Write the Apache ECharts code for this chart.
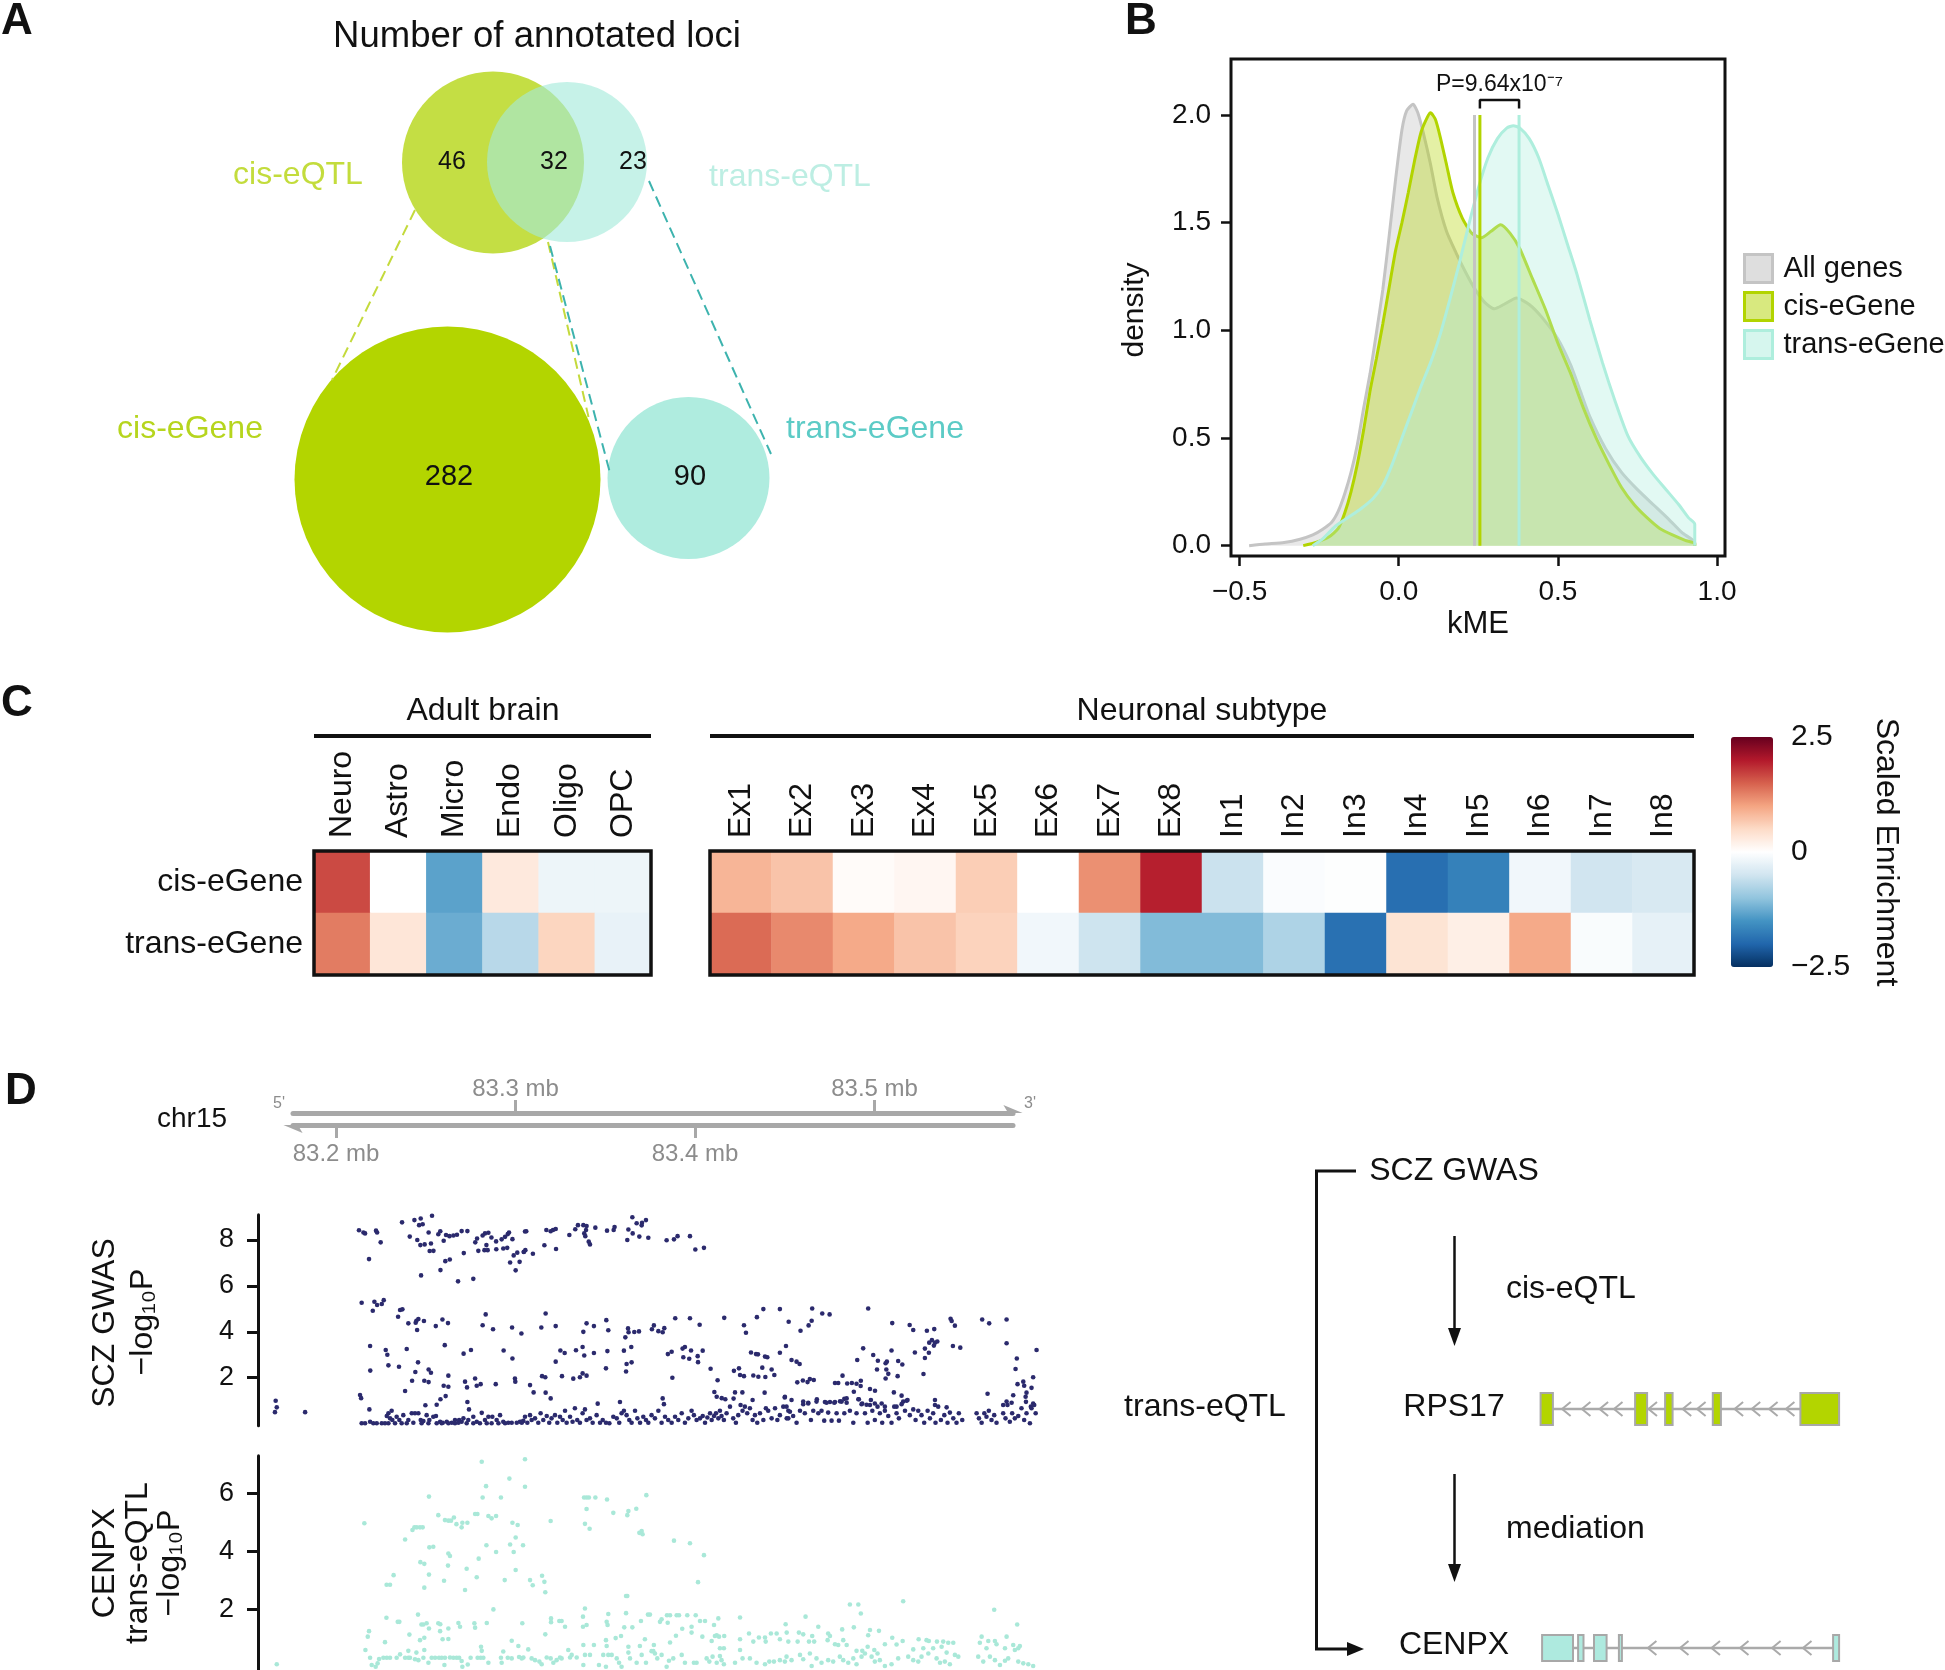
<!DOCTYPE html>
<html>
<head>
<meta charset="utf-8">
<title>Annotated loci figure</title>
<script src="https://cdn.jsdelivr.net/npm/echarts@6.0.0/dist/echarts.min.js"></script>
<style>
html,body{margin:0;padding:0;background:#ffffff;}
#chart{width:1945px;height:1670px;}
</style>
</head>
<body>
<div id="chart"></div>
<script>
const FONT = '"Liberation Sans", Arial, Helvetica, sans-serif';

/* ================= DATA ================= */
/* Panel A: Venn (layout units) */
const vennSets = ['cis-eQTL', 'trans-eQTL', 'cis-eGene', 'trans-eGene'];
const vennCircleX = [39.3, 46.7, 34.75, 58.85];
const vennCircleY = [10.25, 10.2, 41.95, 41.8];
const vennCircleR = [9.1, 8.0, 15.3, 8.1];
const vennCounts = ['46', '32', '23', '282', '90'];
const vennCountX = [35.2, 45.4, 53.3, 34.9, 59.0];
const vennCountY = [10.2, 10.2, 10.2, 41.7, 41.7];
const vennLabelX = [19.8, 69.0, 9.0, 77.5];
const vennLabelY = [11.5, 11.7, 36.9, 36.9];
const vennLinkFrom = [[31.5, 15.0], [44.8, 18.2], [45.0, 18.6], [54.9, 12.1]];
const vennLinkTo = [[23.2, 32.0], [48.85, 35.7], [51.0, 41.3], [67.1, 39.4]];

/* Panel B: kME densities */
const densityGroups = ['All genes', 'cis-eGene', 'trans-eGene'];
const kmeAll = [[-0.47,0],[-0.42,0.008],[-0.36,0.015],[-0.31,0.03],[-0.27,0.05],[-0.24,0.075],[-0.21,0.11],[-0.19,0.16],[-0.17,0.24],[-0.15,0.34],[-0.13,0.47],[-0.11,0.64],[-0.09,0.8],[-0.07,0.99],[-0.05,1.19],[-0.03,1.44],[-0.01,1.7],[0.01,1.93],[0.025,2.02],[0.045,2.05],[0.06,2.01],[0.08,1.9],[0.1,1.77],[0.12,1.62],[0.15,1.46],[0.18,1.36],[0.21,1.27],[0.24,1.19],[0.27,1.13],[0.3,1.1],[0.33,1.12],[0.37,1.15],[0.41,1.12],[0.45,1.06],[0.5,0.96],[0.54,0.84],[0.57,0.72],[0.6,0.6],[0.65,0.45],[0.7,0.34],[0.75,0.26],[0.8,0.19],[0.85,0.12],[0.89,0.06],[0.93,0.015],[0.93,0]];
const kmeCis = [[-0.3,0],[-0.26,0.015],[-0.22,0.04],[-0.19,0.08],[-0.17,0.15],[-0.15,0.25],[-0.13,0.38],[-0.11,0.54],[-0.09,0.72],[-0.07,0.87],[-0.05,1.03],[-0.03,1.2],[-0.01,1.37],[0.01,1.5],[0.03,1.64],[0.05,1.79],[0.07,1.92],[0.09,1.99],[0.1,2.01],[0.115,1.98],[0.13,1.9],[0.15,1.77],[0.17,1.64],[0.2,1.52],[0.23,1.45],[0.26,1.43],[0.29,1.46],[0.32,1.49],[0.35,1.45],[0.38,1.38],[0.42,1.24],[0.46,1.1],[0.5,0.94],[0.54,0.8],[0.58,0.64],[0.62,0.5],[0.66,0.38],[0.7,0.27],[0.74,0.19],[0.78,0.13],[0.82,0.08],[0.86,0.05],[0.9,0.025],[0.93,0.01],[0.93,0]];
const kmeTrans = [[-0.27,0],[-0.24,0.03],[-0.2,0.09],[-0.16,0.13],[-0.12,0.17],[-0.08,0.22],[-0.05,0.28],[-0.02,0.38],[0.01,0.5],[0.04,0.62],[0.07,0.74],[0.1,0.85],[0.13,0.98],[0.16,1.14],[0.19,1.31],[0.22,1.49],[0.25,1.66],[0.28,1.8],[0.31,1.89],[0.34,1.94],[0.36,1.95],[0.38,1.94],[0.41,1.89],[0.44,1.8],[0.47,1.67],[0.5,1.54],[0.53,1.4],[0.56,1.26],[0.6,1.05],[0.64,0.85],[0.68,0.67],[0.72,0.51],[0.76,0.41],[0.8,0.33],[0.84,0.26],[0.88,0.19],[0.91,0.13],[0.93,0.1],[0.93,0]];
const kmeMeans = [0.238, 0.255, 0.378];
const meanLineTop = 2.0;
const bracketY = [2.03, 2.07];
const pValueY = 2.14;
const pValueText = 'P=9.64x10\u207B\u2077';
const kmeTicks = [-0.5, 0, 0.5, 1];
const densityTicks = [0, 0.5, 1, 1.5, 2];

/* Panel C: scaled enrichment */
const adultCells = ['Neuro', 'Astro', 'Micro', 'Endo', 'Oligo', 'OPC'];
const neuronCells = ['Ex1','Ex2','Ex3','Ex4','Ex5','Ex6','Ex7','Ex8','In1','In2','In3','In4','In5','In6','In7','In8'];
const geneSets = ['trans-eGene', 'cis-eGene'];
const cisAdult = [1.65, 0.0, -1.35, 0.3, -0.2, -0.2];
const transAdult = [1.3, 0.35, -1.25, -0.7, 0.55, -0.25];
const cisNeuron = [0.85, 0.72, 0.05, 0.12, 0.62, 0.0, 1.15, 1.95, -0.55, -0.05, -0.02, -1.9, -1.7, -0.15, -0.5, -0.42];
const transNeuron = [1.42, 1.2, 0.95, 0.72, 0.57, -0.15, -0.52, -1.1, -1.1, -0.78, -1.88, 0.38, 0.22, 0.95, -0.06, -0.27];
const colorbarLabels = [-2.5, 0, 2.5];
const colorbarTicks = [-2, -1.5, -1, -0.5, 0, 0.5, 1, 1.5, 2];

/* Panel D: chr15 locus (position in mb, -log10 P) */
const upperTicksMb = [83.3, 83.5];
const lowerTicksMb = [83.2, 83.4];
const gwasSnps = [
[83.1664,1.00],[83.1670,0.71],[83.1660,0.50],[83.1828,0.50],
[83.2128,8.43],[83.2153,8.33],[83.2162,8.29],[83.2223,8.41],[83.2229,8.33],[83.2249,7.90],[83.2184,7.17],[83.2368,8.77],[83.2437,8.87],[83.2472,8.94],[83.2463,8.65],[83.2483,8.69],[83.2535,9.06],[83.2411,8.15],[83.2453,8.00],[83.2470,7.78],[83.2494,7.81],[83.2516,8.33],[83.2529,7.85],[83.2522,7.52],[83.2543,7.53],[83.2570,8.25],[83.2581,8.38],[83.2600,7.97],[83.2613,8.22],[83.2632,8.17],[83.2654,8.20],[83.2674,8.23],[83.2700,8.39],[83.2732,8.39],[83.2712,7.43],[83.2609,7.08],[83.2634,7.15],[83.2582,6.69],[83.2474,6.46],[83.2680,6.20],[83.2765,6.31],[83.2776,7.90],[83.2786,8.07],[83.2793,7.53],[83.2817,8.20],[83.2830,8.29],[83.2849,8.32],[83.2866,8.11],[83.2838,7.78],[83.2827,7.56],[83.2845,7.56],[83.2892,7.94],[83.2893,7.60],[83.2923,8.03],[83.2942,8.14],[83.2957,8.26],[83.2964,8.33],[83.2932,7.63],[83.2954,7.66],[83.2983,8.04],[83.2990,7.33],[83.2970,7.02],[83.3001,6.68],[83.3010,7.45],[83.3023,7.05],[83.3046,7.48],[83.3053,8.37],
[83.3047,7.49],[83.3055,7.56],[83.3097,7.40],[83.3060,8.38],[83.3161,7.77],[83.3172,8.44],[83.3196,8.38],[83.3209,8.44],[83.3224,8.48],[83.3226,7.61],[83.3300,8.22],[83.3333,8.47],[83.3348,8.65],[83.3378,8.65],[83.3396,8.61],[83.3393,8.44],[83.3383,8.29],[83.3389,8.17],[83.3408,7.93],[83.3415,7.81],[83.3445,8.54],[83.3510,8.41],[83.3547,8.44],[83.3552,8.57],[83.3623,8.00],[83.3629,8.46],[83.3651,8.99],[83.3675,8.73],[83.3703,8.64],[83.3705,8.75],[83.3727,8.87],[83.3653,8.29],[83.3690,8.15],[83.3740,8.10],[83.3842,7.99],[83.3883,8.03],[83.3903,8.17],[83.3972,8.17],[83.4002,7.59],[83.4050,7.66],
[83.2143,5.27],[83.2214,5.31],[83.2229,5.17],[83.2255,5.21],[83.2266,5.38],[83.2205,4.92],[83.2346,4.66],[83.2357,4.95],[83.2370,4.98],[83.2403,4.37],[83.2444,4.40],[83.2448,4.48],[83.2459,4.56],[83.2452,4.08],[83.2490,4.47],[83.2556,4.25],[83.2593,4.54],[83.2624,4.38],[83.2834,4.76],[83.2817,4.29],[83.2875,4.11],[83.2981,4.19],[83.3033,3.93],
[83.2190,3.38],[83.2277,3.21],[83.2286,3.00],[83.2394,3.25],[83.2606,3.42],[83.2711,3.05],[83.2752,3.21],[83.2934,3.19],[83.2983,2.84],[83.2292,2.54],[83.2351,2.48],[83.2457,2.67],[83.2191,2.31],[83.2442,2.25],[83.2516,2.36],[83.2529,2.22],[83.2626,2.09],[83.2775,1.97],[83.2424,1.87],[83.2492,1.87],[83.2516,1.81],[83.2600,1.65],[83.2626,1.61],[83.2719,1.83],[83.2730,1.58],[83.2784,1.65],[83.2806,1.72],[83.2890,1.72],[83.2999,1.83],[83.2997,1.97],[83.2385,1.42],[83.2134,1.25],[83.2140,1.11],[83.2611,1.20],[83.2582,1.06],[83.2561,0.82],[83.2732,0.94],[83.2498,0.80],[83.2186,0.62],[83.2741,0.62],
[83.3168,4.80],[83.3144,4.19],[83.3224,4.25],[83.3396,4.37],[83.3378,4.00],[83.3437,4.25],[83.3506,4.51],[83.3517,4.07],[83.3612,3.76],[83.3627,4.15],[83.3630,3.98],[83.3662,3.99],[83.3688,4.02],[83.3760,4.11],[83.3771,4.28],[83.3796,4.03],[83.3820,3.98],[83.3829,4.16],[83.3890,4.59],[83.3972,4.59],[83.4026,4.31],[83.4163,4.61],[83.4273,4.29],[83.4284,3.96],[83.4345,4.64],[83.4381,4.99],[83.4473,4.99],[83.4522,4.44],
[83.3250,3.19],[83.3274,3.08],[83.3337,3.20],[83.3374,3.34],[83.3383,2.97],[83.3437,3.08],[83.3512,3.16],[83.3604,3.18],[83.3645,3.34],[83.3619,2.60],[83.3647,2.67],[83.3616,2.27],[83.3224,2.70],[83.3148,2.07],[83.3166,2.02],[83.3259,2.07],[83.3322,1.96],[83.3359,2.02],[83.3374,2.19],[83.3396,2.09],[83.3504,2.41],[83.3849,3.03],[83.3870,3.13],[83.3931,3.27],[83.3944,3.34],[83.3978,3.19],[83.4015,2.94],[83.4043,3.18],[83.3935,2.89],[83.3968,2.83],[83.4017,2.68],[83.3874,2.00],[83.4087,2.39],[83.4126,1.89],[83.4217,2.30],[83.4245,2.41],[83.4251,2.12],[83.4273,2.07],[83.4312,3.10],[83.4340,3.03],[83.4351,3.02],[83.4390,2.92],[83.4403,2.89],[83.4473,3.09],[83.4507,3.38],[83.4375,2.44],[83.4427,2.36],[83.4325,2.10],[83.4353,2.04],[83.4392,2.03],[83.4442,2.12],[83.3081,1.68],[83.3101,1.36],[83.3168,1.35],[83.3196,1.10],[83.3458,0.87],[83.3582,0.94],[83.3820,1.10],[83.3827,0.85],[83.4108,1.38],[83.4121,1.17],[83.4149,1.11],[83.4169,1.06],[83.4215,1.09],[83.4223,1.36],[83.4264,1.36],[83.4321,1.03],[83.4388,1.35],[83.4500,1.14],
[83.4653,5.02],[83.4709,4.80],[83.4750,4.76],[83.4650,4.48],[83.4633,4.28],[83.4588,4.05],[83.4965,5.02],[83.5099,4.38],[83.5196,4.30],[83.5216,4.08],[83.5292,4.05],[83.5333,4.12],[83.5424,4.57],[83.5430,4.47],[83.5448,4.27],[83.5600,4.54],[83.5639,4.37],[83.5736,4.54],[83.5305,3.53],[83.5320,3.64],[83.5337,3.53],[83.5350,3.58],[83.5331,3.40],[83.5281,3.27],[83.5303,3.09],[83.5437,3.38],[83.5478,3.31],[83.5225,3.10],[83.5095,3.19],[83.4937,3.28],[83.4993,2.99],[83.5736,3.50],[83.5903,3.21],[83.5793,2.84],[83.4538,2.77],[83.4566,2.70],[83.4583,2.60],[83.4904,2.77],[83.5019,2.74],[83.5062,2.63],[83.5069,2.70],[83.5132,2.73],[83.5155,2.58],[83.5014,2.36],[83.5066,2.36],[83.5077,2.17],[83.5129,2.07],[83.5062,1.97],[83.5281,2.86],[83.5273,2.16],[83.5786,2.38],[83.5884,2.02],[83.4570,1.80],[83.4601,1.88],[83.4627,1.81],[83.4640,1.94],[83.4662,1.90],[83.4780,1.77],[83.4798,1.77],[83.4822,2.09],[83.4848,1.75],[83.4874,1.77],[83.4900,1.74],[83.4924,1.87],[83.4923,1.64],[83.4975,1.51],[83.5003,1.43],[83.4885,1.39],[83.5108,1.36],[83.5151,1.22],[83.5797,1.72],[83.5829,1.83],[83.5834,1.65],[83.5875,1.56],[83.5847,1.35],[83.5773,1.24],[83.5630,1.30],[83.5842,1.17],[83.5844,0.95],[83.5884,0.88],[83.5871,0.74],[83.4501,1.17],[83.4538,1.03],[83.4603,0.96],[83.4631,0.91],[83.4679,1.06],[83.4724,0.94],[83.4752,0.94],[83.4780,0.94],[83.4808,0.97],[83.4832,1.08],[83.4845,0.91],[83.4910,1.06],[83.4932,0.88],[83.4956,0.82],[83.4980,1.03],[83.5002,0.88],[83.5040,0.88],[83.5058,0.74],[83.5123,0.74],[83.5160,0.96],[83.5179,1.00],[83.5337,1.03],[83.5337,0.81],[83.5402,0.71],[83.5717,0.81],[83.5736,0.96],[83.5764,0.91],
[83.2292,0.45],[83.2310,0.56],[83.2283,0.33],[83.2301,0.23],[83.2314,0.16],[83.2338,0.30],[83.2353,0.16],[83.2375,0.37],[83.2403,0.16],[83.2422,0.45],[83.2440,0.45],[83.2459,0.45],[83.2472,0.16],[83.2487,0.11],[83.2505,0.37],[83.2520,0.16],[83.2542,0.30],[83.2557,0.33],[83.2580,0.08],[83.2595,0.04],[83.2617,0.08],[83.2645,0.04],[83.2663,0.16],[83.2686,0.16],[83.2700,0.08],[83.2710,0.23],[83.2737,0.16],[83.2765,0.30],[83.2784,0.08],[83.2812,0.47],[83.2830,0.16],[83.2849,0.30],[83.2871,0.30],[83.2895,0.16],[83.2914,0.37],[83.2932,0.08],[83.2960,0.04],[83.2979,0.04],[83.3007,0.04],[83.3035,0.04],[83.2143,0.02],[83.2162,0.02],[83.2190,0.08],[83.2208,0.02],[83.2227,0.02],[83.2255,0.02],[83.2273,0.02],[83.2292,0.02],[83.2329,0.02],[83.2366,0.02],[83.2394,0.02],[83.2431,0.04],[83.2477,0.02],[83.2515,0.02],[83.2561,0.02],[83.2589,0.02],[83.2626,0.02],[83.2663,0.02],[83.2682,0.04],[83.2728,0.02],[83.2765,0.02],[83.2802,0.02],[83.2840,0.02],[83.2867,0.02],[83.2905,0.02],[83.2942,0.02],[83.3025,0.08],[83.3044,0.12],
[83.3034,0.08],[83.3053,0.30],[83.3066,0.04],[83.3081,0.37],[83.3090,0.16],[83.3109,0.23],[83.3127,0.04],[83.3140,0.45],[83.3155,0.16],[83.3174,0.33],[83.3188,0.04],[83.3201,0.23],[83.3220,0.37],[83.3233,0.04],[83.3248,0.30],[83.3263,0.16],[83.3276,0.56],[83.3285,0.04],[83.3304,0.30],[83.3318,0.08],[83.3331,0.67],[83.3344,0.16],[83.3359,0.04],[83.3374,0.45],[83.3387,0.62],[83.3396,0.16],[83.3415,0.23],[83.3430,0.04],[83.3452,0.37],[83.3471,0.04],[83.3486,0.16],[83.3504,0.04],[83.3523,0.02],[83.3545,0.30],[83.3564,0.23],[83.3578,0.04],[83.3591,0.45],[83.3604,0.56],[83.3619,0.37],[83.3634,0.16],[83.3647,0.04],[83.3666,0.56],[83.3679,0.23],[83.3694,0.04],[83.3712,0.30],[83.3727,0.16],[83.3740,0.04],[83.3758,0.37],[83.3777,0.23],[83.3796,0.56],[83.3814,0.04],[83.3833,0.30],[83.3851,0.16],[83.3870,0.04],[83.3889,0.30],[83.3907,0.16],[83.3926,0.45],[83.3944,0.04],[83.3963,0.23],[83.3981,0.56],[83.3994,0.37],[83.4009,0.16],[83.4028,0.23],[83.4043,0.33],[83.4056,0.04],[83.4069,0.27],[83.4084,0.45],[83.4093,0.16],[83.4106,0.33],[83.4117,0.45],[83.4130,0.23],[83.4139,0.56],[83.4148,0.33],[83.4161,0.16],[83.4176,0.45],[83.4195,0.74],[83.4213,0.23],[83.4228,0.04],[83.4241,0.37],[83.4254,0.81],[83.4265,0.56],[83.4278,0.74],[83.4291,0.45],[83.4306,0.67],[83.4321,0.16],[83.4334,0.37],[83.4347,0.04],[83.4362,0.45],[83.4381,0.16],[83.4395,0.67],[83.4408,0.56],[83.4427,0.23],[83.4446,0.67],[83.4459,0.16],[83.4473,0.37],[83.4492,0.74],[83.4511,0.23],[83.4520,0.56],
[83.4510,0.74],[83.4529,0.52],[83.4520,0.23],[83.4547,0.33],[83.4566,0.04],[83.4585,0.56],[83.4603,0.85],[83.4612,0.45],[83.4631,0.88],[83.4646,0.16],[83.4659,0.56],[83.4677,0.96],[83.4687,0.45],[83.4705,0.56],[83.4720,0.13],[83.4733,0.91],[83.4742,0.48],[83.4761,0.13],[83.4776,0.91],[83.4789,0.45],[83.4802,0.13],[83.4817,0.96],[83.4832,0.45],[83.4845,1.10],[83.4863,0.56],[83.4882,0.04],[83.4900,0.45],[83.4913,1.06],[83.4928,0.85],[83.4947,0.45],[83.4962,0.04],[83.4975,0.81],[83.4988,0.56],[83.5002,0.16],[83.5017,0.74],[83.5030,0.45],[83.5043,0.04],[83.5058,0.56],[83.5077,0.33],[83.5095,0.04],[83.5110,0.74],[83.5123,0.45],[83.5136,0.23],[83.5151,0.85],[83.5170,0.56],[83.5184,1.03],[83.5197,0.37],[83.5216,0.62],[83.5229,0.16],[83.5244,0.56],[83.5262,0.37],[83.5277,0.04],[83.5296,0.56],[83.5309,0.23],[83.5327,0.45],[83.5340,0.04],[83.5355,0.74],[83.5370,0.16],[83.5389,0.37],[83.5407,0.04],[83.5420,0.48],[83.5439,0.23],[83.5457,0.04],[83.5470,0.45],[83.5489,0.16],[83.5569,0.45],[83.5582,0.23],[83.5597,0.04],[83.5612,0.45],[83.5624,0.30],[83.5637,0.56],[83.5652,0.16],[83.5667,0.37],[83.5680,0.04],[83.5717,0.45],[83.5730,0.23],[83.5741,0.81],[83.5754,0.08],[83.5767,0.45],[83.5782,0.23],[83.5801,0.33],[83.5819,0.67],[83.5834,0.16],[83.5847,0.45],[83.5866,0.02],[83.5875,0.67],[83.5890,0.81],[83.5898,0.45]
];
const transSnps = [
[83.1670,0.11],[83.2158,4.97],[83.2518,5.89],[83.2385,4.41],[83.2426,4.74],[83.2437,4.83],[83.2450,4.83],[83.2468,4.83],[83.2483,4.83],[83.2520,4.14],[83.2542,4.16],[83.2570,5.25],[83.2607,5.08],[83.2626,5.06],[83.2641,5.06],[83.2657,5.17],[83.2671,4.94],[83.2700,4.83],[83.2704,4.99],[83.2732,4.99],[83.2775,5.29],[83.2788,5.29],[83.2812,7.09],[83.2836,6.25],[83.2817,5.86],[83.2849,5.22],[83.2867,5.14],[83.2892,5.22],[83.2919,5.86],[83.2966,6.51],[83.2983,4.99],[83.3012,4.91],[83.3001,4.48],[83.3053,7.18],[83.3053,6.23],[83.2838,4.21],[83.2892,3.98],[83.2970,4.24],[83.2990,3.98],[83.3042,4.21],[83.2626,3.93],[83.2635,3.84],[83.2470,3.63],[83.2492,3.57],[83.2624,3.51],[83.2795,3.75],[83.2728,3.40],[83.2518,3.20],[83.2321,3.18],[83.2282,2.85],[83.2301,2.85],[83.2492,2.75],[83.2602,2.99],[83.2719,2.67],[83.2784,3.11],[83.2940,3.01],[83.3001,3.36],[83.2877,2.00],[83.2457,1.82],[83.2281,1.71],[83.2344,1.57],[83.2353,1.57],[83.2476,1.48],[83.2487,1.48],[83.2505,1.52],[83.2518,1.34],[83.2570,1.52],[83.2581,1.49],[83.2580,1.25],[83.2626,1.34],[83.2682,1.53],[83.2691,1.40],[83.2771,1.52],[83.2775,1.37],[83.2840,1.53],[83.3038,1.52],[83.2184,1.25],[83.2177,1.06],[83.2409,1.13],[83.2273,0.87],[83.2468,0.94],[83.2492,1.02],[83.2594,0.97],[83.2626,0.98],[83.2979,0.92],[83.2164,0.60],[83.2403,0.57],[83.2448,0.51],[83.2492,0.60],[83.2808,0.71],[83.2812,0.57],[83.2932,0.55],[83.3016,0.74],
[83.2190,0.33],[83.2199,0.08],[83.2221,0.02],[83.2232,0.14],[83.2240,0.29],[83.2264,0.33],[83.2283,0.33],[83.2301,0.33],[83.2338,0.33],[83.2357,0.45],[83.2385,0.33],[83.2403,0.33],[83.2412,0.33],[83.2440,0.28],[83.2459,0.25],[83.2487,0.33],[83.2515,0.16],[83.2533,0.33],[83.2552,0.33],[83.2574,0.33],[83.2589,0.33],[83.2607,0.33],[83.2604,0.08],[83.2635,0.34],[83.2654,0.33],[83.2672,0.33],[83.2686,0.33],[83.2700,0.22],[83.2704,0.02],[83.2734,0.10],[83.2750,0.33],[83.2789,0.33],[83.2806,0.33],[83.2821,0.33],[83.2849,0.16],[83.2919,0.33],[83.2923,0.16],[83.2957,0.33],[83.2979,0.31],[83.3020,0.36],[83.3035,0.31],
[83.3196,5.05],[83.3382,5.86],[83.3396,5.86],[83.3409,5.86],[83.3445,5.86],[83.3510,5.79],[83.3729,5.94],[83.3396,5.46],[83.3387,4.95],[83.3413,4.78],[83.3545,5.33],[83.3623,5.25],[83.3629,5.39],[83.3673,5.47],[83.3690,4.64],[83.3703,4.70],[83.3708,4.59],[83.3883,4.37],[83.3972,4.28],[83.4050,3.87],[83.4017,2.94],[83.3081,3.01],[83.3096,2.83],[83.3148,3.16],[83.3161,2.95],[83.3166,2.59],[83.3616,2.46],[83.3623,2.46],[83.3166,1.14],[83.3198,1.69],[83.3198,1.56],[83.3244,1.60],[83.3257,1.60],[83.3276,1.40],[83.3376,1.75],[83.3387,2.03],[83.3376,1.40],[83.3396,1.46],[83.3517,1.84],[83.3508,1.57],[83.3513,1.46],[83.3616,1.87],[83.3606,1.38],[83.3651,1.38],[83.3699,1.60],[83.3738,1.82],[83.3749,1.82],[83.3805,1.57],[83.3814,1.66],[83.3844,1.80],[83.3848,1.54],[83.3861,1.80],[83.3898,1.80],[83.3911,1.80],[83.3957,1.80],[83.4004,1.80],[83.4028,1.60],[83.4056,1.60],[83.3981,1.40],[83.3981,1.20],[83.4130,1.69],[83.4251,1.72],[83.4106,1.46],[83.3929,1.33],[83.3894,1.09],[83.3861,0.86],[83.4041,1.06],[83.4093,0.91],[83.4111,1.08],[83.4121,1.11],[83.4134,1.06],[83.4163,1.08],[83.4139,0.66],[83.4161,0.66],[83.4251,0.97],[83.4301,1.17],[83.4325,0.89],[83.4356,1.03],[83.4390,1.03],[83.4394,0.89],[83.4423,1.17],[83.4455,1.17],[83.4473,0.97],[83.4505,1.49],[83.4511,1.20],[83.3378,0.77],[83.3437,0.77],[83.3504,0.94],[83.3508,0.74],[83.3558,1.01],[83.3588,1.08],[83.3629,0.71],[83.3693,0.74],[83.3721,0.97],[83.3771,0.77],[83.3768,0.56],[83.3071,0.62],[83.3294,0.60],[83.3313,0.43],
[83.3044,0.34],[83.3090,0.31],[83.3109,0.25],[83.3133,0.20],[83.3146,0.11],[83.3174,0.34],[83.3196,0.31],[83.3211,0.16],[83.3229,0.25],[83.3248,0.34],[83.3257,0.31],[83.3304,0.34],[83.3341,0.34],[83.3378,0.08],[83.3387,0.43],[83.3415,0.43],[83.3465,0.08],[83.3489,0.43],[83.3504,0.02],[83.3517,0.43],[83.3536,0.43],[83.3564,0.31],[83.3577,0.16],[83.3591,0.02],[83.3629,0.51],[83.3638,0.31],[83.3675,0.16],[83.3703,0.43],[83.3727,0.16],[83.3758,0.56],[83.3777,0.48],[83.3790,0.31],[83.3814,0.43],[83.3842,0.02],[83.3855,0.23],[83.3879,0.31],[83.3926,0.43],[83.3944,0.16],[83.3994,0.16],[83.4009,0.16],[83.4065,0.31],[83.4080,0.20],[83.4098,0.37],[83.4121,0.16],[83.4139,0.39],[83.4148,0.25],[83.4161,0.11],[83.4223,0.16],[83.4251,0.60],[83.4265,0.31],[83.4306,0.31],[83.4343,0.16],[83.4390,0.11],[83.4414,0.20],[83.4440,0.20],[83.4473,0.25],[83.4501,0.20],
[83.4863,2.17],[83.4910,2.17],[83.4924,1.86],[83.5160,2.28],[83.5667,1.99],[83.4616,1.75],[83.4687,1.40],[83.4885,1.38],[83.4820,1.31],[83.4975,1.29],[83.5025,1.26],[83.5795,1.48],[83.4579,1.20],[83.4603,1.14],[83.4653,1.08],[83.4742,1.17],[83.4752,1.08],[83.4965,1.11],[83.5099,1.02],[83.5246,0.97],[83.5290,0.94],[83.5303,0.91],[83.5348,0.89],[83.5383,0.89],[83.5411,0.85],[83.5439,0.85],[83.5597,1.06],[83.5634,0.91],[83.5671,0.91],[83.5736,1.06],[83.5773,0.77],[83.5810,0.74],[83.4520,0.89],[83.4572,0.89],[83.4635,0.89],[83.4664,0.89],[83.4739,0.94],[83.4780,0.80],[83.4798,0.77],[83.4826,0.94],[83.4845,0.77],[83.4900,0.57],[83.4932,0.57],[83.4962,0.71],[83.4999,0.60],[83.5017,0.48],[83.5058,0.80],[83.5123,0.79],[83.5157,0.91],[83.5216,0.62],[83.5272,0.66],[83.5327,0.66],[83.5374,0.71],[83.5402,0.51],[83.5448,0.43],[83.5587,0.85],[83.5624,0.66],[83.5680,0.80],[83.5727,0.66],[83.5782,0.60],[83.5801,0.66],
[83.4510,0.37],[83.4538,0.25],[83.4585,0.43],[83.4603,0.28],[83.4640,0.48],[83.4650,0.05],[83.4677,0.31],[83.4705,0.16],[83.4742,0.25],[83.4770,0.20],[83.4807,0.37],[83.4826,0.25],[83.4854,0.16],[83.4882,0.31],[83.4900,0.11],[83.4928,0.37],[83.4947,0.48],[83.4984,0.37],[83.5002,0.20],[83.5030,0.25],[83.5058,0.05],[83.5095,0.11],[83.5132,0.31],[83.5188,0.37],[83.5216,0.25],[83.5244,0.20],[83.5262,0.37],[83.5300,0.48],[83.5346,0.31],[83.5365,0.16],[83.5392,0.20],[83.5420,0.11],[83.5467,0.37],[83.5578,0.37],[83.5606,0.20],[83.5643,0.37],[83.5671,0.25],[83.5699,0.08],[83.5727,0.23],[83.5745,0.31],[83.5801,0.20],[83.5829,0.14],[83.5857,0.11],[83.5884,0.05]
];

/* Panel D right: gene models (relative position along gene, 0-1) */
const geneNames = ['RPS17', 'CENPX'];
const geneRowY = [1, 0];
const geneSpan = [[0.002, 0.997], [0.007, 0.997]];
const rps17Exons = [[0.002,0.043],[0.317,0.357],[0.417,0.442],[0.576,0.603],[0.868,0.997]];
const cenpxExons = [[0.007,0.11],[0.127,0.145],[0.18,0.222],[0.263,0.273],[0.977,0.997]];
const rps17Chevrons = [0.087,0.153,0.212,0.26,0.375,0.489,0.537,0.662,0.719,0.777,0.833];
const cenpxChevrons = [0.373,0.48,0.585,0.68,0.787,0.89];

/* ================= STYLE ================= */
const vennFill = ['#c4de44', 'rgba(163,234,218,0.62)', '#b3d500', '#afecdf'];
const vennLabelColor = ['#c3dc3c', '#bdeee3', '#b6d51e', '#5ccbc6'];
const vennLinkColor = ['#c4da3c', '#c4da3c', '#3db3ae', '#3db3ae'];
const densityLine = ['#c4c4c4', '#b2d400', '#aeeedd'];
const densityFill = ['rgba(190,190,190,0.5)', 'rgba(178,212,0,0.5)', 'rgba(174,238,221,0.5)'];
const rdbu = ['#053061','#2166ac','#4393c3','#92c5de','#d1e5f0','#ffffff','#fddbc7','#f4a582','#d6604d','#b2182b','#67001f'];
const geneFill = ['#b3d500', '#aeeadf'];
const geneBoxH = [32, 26];
const INK = '#111111';

/* ================= HELPERS ================= */
function txt(text, x, y, size, o) {
  o = o || {};
  const al = o.align || 'center';
  return { type: 'text', x: x, y: y, rotation: o.rot || 0, z: 100, silent: true,
    style: { text: text, fill: o.color || INK, fontSize: size, fontFamily: FONT,
      fontWeight: o.bold ? 'bold' : 'normal', align: al, textAlign: al,
      verticalAlign: 'middle', textVerticalAlign: 'middle' } };
}
function hiddenAxis(gi, min, max, extra) {
  return Object.assign({ gridIndex: gi, type: 'value', min: min, max: max, show: false }, extra || {});
}
const fmt1 = v => (v < 0 ? '\u2212' + Math.abs(v).toFixed(1) : v.toFixed(1));
const fmtCb = v => (v === 0 ? '0' : (v < 0 ? '\u2212' + Math.abs(v).toFixed(1) : v.toFixed(1)));
const harpoon = 'path://M5,0 L0,12 L5,9 Z M10,12 L10,12 Z';
const snpMin = 83.15655, snpMax = 83.595;
const ideoMin = 83.176, ideoMax = 83.5771;

/* ================= SERIES ================= */
const series = [];
// Panel A
series.push({ type: 'custom', xAxisIndex: 0, yAxisIndex: 0, silent: true, z: 2,
  data: vennSets.map((n, i) => [vennCircleX[i], vennCircleY[i], vennCircleR[i]]),
  renderItem: (p, api) => {
    const c = api.coord([api.value(0), api.value(1)]);
    const r = Math.abs(api.size([api.value(2), 0])[0]);
    return { type: 'circle', shape: { cx: c[0], cy: c[1], r: r }, style: { fill: vennFill[p.dataIndex] } };
  } });
series.push({ type: 'custom', xAxisIndex: 0, yAxisIndex: 0, silent: true, z: 3,
  data: vennLinkFrom.map((f, i) => [f[0], f[1], vennLinkTo[i][0], vennLinkTo[i][1]]),
  renderItem: (p, api) => {
    const a = api.coord([api.value(0), api.value(1)]);
    const b = api.coord([api.value(2), api.value(3)]);
    return { type: 'line', shape: { x1: a[0], y1: a[1], x2: b[0], y2: b[1] },
      style: { stroke: vennLinkColor[p.dataIndex], lineWidth: 2, lineDash: [11, 6] } };
  } });
const vennTextData = vennCounts.map((t, i) => [vennCountX[i], vennCountY[i], 0, i])
  .concat(vennSets.map((t, i) => [vennLabelX[i], vennLabelY[i], 1, i]));
series.push({ type: 'custom', xAxisIndex: 0, yAxisIndex: 0, silent: true, z: 4, data: vennTextData,
  renderItem: (p, api) => {
    const c = api.coord([api.value(0), api.value(1)]);
    const kind = api.value(2), i = api.value(3);
    const isCount = kind === 0;
    return { type: 'text', x: c[0], y: c[1],
      style: { text: isCount ? vennCounts[i] : vennSets[i], fill: isCount ? INK : vennLabelColor[i],
        fontSize: isCount ? (i >= 3 ? 29 : 25) : 32, fontFamily: FONT,
        align: 'center', textAlign: 'center', verticalAlign: 'middle', textVerticalAlign: 'middle' } };
  } });
// Panel B
[kmeAll, kmeCis, kmeTrans].forEach((d, i) => {
  series.push({ name: densityGroups[i], type: 'line', xAxisIndex: 1, yAxisIndex: 1, data: d,
    symbol: 'none', showSymbol: false, smooth: 0.2, silent: true, z: 2 + i,
    lineStyle: { color: densityLine[i], width: 3 }, itemStyle: { color: densityLine[i] },
    areaStyle: { color: densityFill[i] } });
});
kmeMeans.forEach((m, i) => {
  series.push({ type: 'line', xAxisIndex: 1, yAxisIndex: 1, data: [[m, 0], [m, meanLineTop]],
    symbol: 'none', silent: true, z: 6, lineStyle: { color: densityLine[i], width: 3 } });
});
series.push({ type: 'line', xAxisIndex: 1, yAxisIndex: 1, symbol: 'none', silent: true, z: 7,
  data: [[kmeMeans[1], bracketY[0]], [kmeMeans[1], bracketY[1]], [kmeMeans[2], bracketY[1]], [kmeMeans[2], bracketY[0]]],
  lineStyle: { color: INK, width: 2.5 } });
series.push({ type: 'custom', xAxisIndex: 1, yAxisIndex: 1, silent: true, z: 8,
  data: [[(kmeMeans[1] + kmeMeans[2]) / 2, pValueY]],
  renderItem: (p, api) => {
    const c = api.coord([api.value(0), api.value(1)]);
    return { type: 'text', x: c[0], y: c[1], style: { text: pValueText, fill: INK, fontSize: 23, fontFamily: FONT,
      align: 'center', textAlign: 'center', verticalAlign: 'middle', textVerticalAlign: 'middle' } };
  } });
// Panel C
const heatIdx = [];
heatIdx.push(series.length);
series.push({ type: 'heatmap', xAxisIndex: 2, yAxisIndex: 2, silent: true,
  data: adultCells.map((c, i) => [i, 1, cisAdult[i]]).concat(adultCells.map((c, i) => [i, 0, transAdult[i]])),
  itemStyle: { borderWidth: 0 }, emphasis: { disabled: true } });
heatIdx.push(series.length);
series.push({ type: 'heatmap', xAxisIndex: 3, yAxisIndex: 3, silent: true,
  data: neuronCells.map((c, i) => [i, 1, cisNeuron[i]]).concat(neuronCells.map((c, i) => [i, 0, transNeuron[i]])),
  itemStyle: { borderWidth: 0 }, emphasis: { disabled: true } });
// Panel D scatter
series.push({ type: 'scatter', xAxisIndex: 7, yAxisIndex: 6, data: gwasSnps, symbol: 'circle', symbolSize: 4.6,
  silent: true, itemStyle: { color: '#2b2a6d', opacity: 1 } });
series.push({ type: 'scatter', xAxisIndex: 8, yAxisIndex: 7, data: transSnps, symbol: 'circle', symbolSize: 4.6,
  silent: true, itemStyle: { color: '#a9e8d8', opacity: 1 } });
// Gene models
series.push({ type: 'custom', xAxisIndex: 9, yAxisIndex: 8, silent: true, z: 2,
  data: geneSpan.map((s, g) => [s[0], s[1], g]),
  renderItem: (p, api) => {
    const g = api.value(2);
    const a = api.coord([api.value(0), geneRowY[g]]);
    const b = api.coord([api.value(1), geneRowY[g]]);
    return { type: 'line', shape: { x1: a[0], y1: a[1], x2: b[0], y2: b[1] }, style: { stroke: '#aaaaaa', lineWidth: 2.5 } };
  } });
series.push({ type: 'custom', xAxisIndex: 9, yAxisIndex: 8, silent: true, z: 3,
  data: rps17Chevrons.map(v => [v, 0]).concat(cenpxChevrons.map(v => [v, 1])),
  renderItem: (p, api) => {
    const g = api.value(1);
    const c = api.coord([api.value(0), geneRowY[g]]);
    return { type: 'polyline', shape: { points: [[c[0] + 4.5, c[1] - 7], [c[0] - 4, c[1]], [c[0] + 4.5, c[1] + 7]] },
      style: { stroke: '#aaaaaa', lineWidth: 2, fill: null } };
  } });
series.push({ type: 'custom', xAxisIndex: 9, yAxisIndex: 8, silent: true, z: 4,
  data: rps17Exons.map(e => [e[0], e[1], 0]).concat(cenpxExons.map(e => [e[0], e[1], 1])),
  renderItem: (p, api) => {
    const g = api.value(2);
    const a = api.coord([api.value(0), geneRowY[g]]);
    const b = api.coord([api.value(1), geneRowY[g]]);
    const h = geneBoxH[g];
    return { type: 'rect', shape: { x: a[0], y: a[1] - h / 2, width: b[0] - a[0], height: h },
      style: { fill: geneFill[g], stroke: '#a8a8a8', lineWidth: 2 } };
  } });

/* ================= GRAPHIC (text & diagram) ================= */
const graphics = [
  txt('A', 1, 22, 44, { bold: true, align: 'left' }),
  txt('B', 1125, 22, 44, { bold: true, align: 'left' }),
  txt('C', 1, 704, 44, { bold: true, align: 'left' }),
  txt('D', 5, 1092, 44, { bold: true, align: 'left' }),
  txt('Number of annotated loci', 537, 37, 36.5),
  txt('density', 1135, 310, 30, { rot: Math.PI / 2 }),
  txt('kME', 1478, 624, 31),
  txt('Adult brain', 483, 711, 32),
  txt('Neuronal subtype', 1202, 711, 32),
  { type: 'line', shape: { x1: 314, y1: 736, x2: 651, y2: 736 }, style: { stroke: INK, lineWidth: 4 }, z: 100 },
  { type: 'line', shape: { x1: 710, y1: 736, x2: 1694, y2: 736 }, style: { stroke: INK, lineWidth: 4 }, z: 100 },
  { type: 'rect', shape: { x: 314, y: 851, width: 337, height: 124 }, style: { fill: 'none', stroke: INK, lineWidth: 3.5 }, z: 100 },
  { type: 'rect', shape: { x: 710, y: 851, width: 984, height: 124 }, style: { fill: 'none', stroke: INK, lineWidth: 3.5 }, z: 100 },
  txt('Scaled Enrichment', 1886, 852, 32, { rot: -Math.PI / 2 }),
  txt('chr15', 192, 1119, 28),
  txt("5'", 279, 1104, 16, { color: '#8c8c8c' }),
  txt("3'", 1030, 1104, 16, { color: '#8c8c8c' }),
  txt('SCZ GWAS', 105, 1323, 32, { rot: Math.PI / 2 }),
  txt('\u2212log\u2081\u2080P', 143, 1322, 32, { rot: Math.PI / 2 }),
  txt('CENPX', 105, 1563, 32, { rot: Math.PI / 2 }),
  txt('trans-eQTL', 138, 1563, 32, { rot: Math.PI / 2 }),
  txt('\u2212log\u2081\u2080P', 170, 1563, 32, { rot: Math.PI / 2 }),
  txt('SCZ GWAS', 1454, 1171, 32),
  txt('cis-eQTL', 1506, 1289, 32, { align: 'left' }),
  txt('RPS17', 1454, 1407, 32),
  txt('mediation', 1506, 1529, 32, { align: 'left' }),
  txt('CENPX', 1454, 1645, 32),
  txt('trans-eQTL', 1205, 1407, 32),
  { type: 'polyline', shape: { points: [[1356, 1171], [1316.5, 1171], [1316.5, 1649], [1350, 1649]] }, style: { stroke: INK, lineWidth: 3, fill: null }, z: 100 },
  { type: 'polygon', shape: { points: [[1347, 1642], [1347, 1656], [1364, 1649]] }, style: { fill: INK }, z: 100 },
  { type: 'line', shape: { x1: 1454.5, y1: 1236, x2: 1454.5, y2: 1332 }, style: { stroke: INK, lineWidth: 2.5 }, z: 100 },
  { type: 'polygon', shape: { points: [[1448, 1328], [1461, 1328], [1454.5, 1346]] }, style: { fill: INK }, z: 100 },
  { type: 'line', shape: { x1: 1454.5, y1: 1474, x2: 1454.5, y2: 1568 }, style: { stroke: INK, lineWidth: 2.5 }, z: 100 },
  { type: 'polygon', shape: { points: [[1448, 1564], [1461, 1564], [1454.5, 1582]] }, style: { fill: INK }, z: 100 }
];

/* ================= OPTION ================= */
const axisInk = { color: INK, width: 2.5 };
const option = {
  animation: false,
  backgroundColor: '#ffffff',
  textStyle: { fontFamily: FONT },
  grid: [
    { left: 100, top: 60, width: 900, height: 600 },
    { left: 1231, top: 59, width: 494, height: 497, show: true, borderColor: INK, borderWidth: 3, backgroundColor: 'rgba(0,0,0,0)' },
    { left: 314, top: 851, width: 337, height: 124 },
    { left: 710, top: 851, width: 984, height: 124 },
    { left: 1731, top: 737, width: 42, height: 230 },
    { left: 293, top: 1113, width: 720, height: 12 },
    { left: 258, top: 1214.8, width: 787, height: 210.9 },
    { left: 258, top: 1455.7, width: 787, height: 214.3 },
    { left: 1540, top: 1409, width: 300, height: 239 }
  ],
  xAxis: [
    hiddenAxis(0, 0, 90),
    { gridIndex: 1, type: 'value', min: -0.527, max: 1.025,
      axisLine: { show: false, onZero: false },
      axisTick: { show: true, customValues: kmeTicks, length: 10, lineStyle: axisInk },
      axisLabel: { customValues: kmeTicks, formatter: fmt1, fontSize: 28, color: INK, margin: 22, fontFamily: FONT },
      splitLine: { show: false } },
    { gridIndex: 2, type: 'category', data: adultCells, position: 'top',
      axisLine: { show: false }, axisTick: { show: false },
      axisLabel: { rotate: -90, interval: 0, fontSize: 32, color: INK, margin: 13, fontFamily: FONT } },
    { gridIndex: 3, type: 'category', data: neuronCells, position: 'top',
      axisLine: { show: false }, axisTick: { show: false },
      axisLabel: { rotate: -90, interval: 0, fontSize: 32, color: INK, margin: 13, fontFamily: FONT } },
    hiddenAxis(4, 0, 1),
    { gridIndex: 5, type: 'value', position: 'top', min: ideoMin, max: ideoMax,
      axisLine: { show: true, onZero: false, lineStyle: { color: '#a8a8a8', width: 5 }, symbol: ['none', harpoon], symbolSize: [16, 20] },
      axisTick: { show: true, customValues: upperTicksMb, length: 13, lineStyle: { color: '#a8a8a8', width: 3 } },
      axisLabel: { customValues: upperTicksMb, formatter: v => v.toFixed(1) + ' mb', fontSize: 24, color: '#8c8c8c', margin: 12, fontFamily: FONT },
      splitLine: { show: false } },
    { gridIndex: 5, type: 'value', position: 'bottom', min: ideoMin, max: ideoMax,
      axisLine: { show: true, onZero: false, lineStyle: { color: '#a8a8a8', width: 5 }, symbol: [harpoon, 'none'], symbolSize: [16, 20] },
      axisTick: { show: true, customValues: lowerTicksMb, length: 13, lineStyle: { color: '#a8a8a8', width: 3 } },
      axisLabel: { customValues: lowerTicksMb, formatter: v => v.toFixed(1) + ' mb', fontSize: 24, color: '#8c8c8c', margin: 17, fontFamily: FONT },
      splitLine: { show: false } },
    hiddenAxis(6, snpMin, snpMax),
    hiddenAxis(7, snpMin, snpMax),
    hiddenAxis(8, 0, 1)
  ],
  yAxis: [
    hiddenAxis(0, 0, 60, { inverse: true }),
    { gridIndex: 1, type: 'value', min: -0.048, max: 2.26,
      axisLine: { show: false, onZero: false },
      axisTick: { show: true, customValues: densityTicks, length: 10, lineStyle: axisInk },
      axisLabel: { customValues: densityTicks, formatter: fmt1, fontSize: 28, color: INK, margin: 20, fontFamily: FONT },
      splitLine: { show: false } },
    { gridIndex: 2, type: 'category', data: geneSets,
      axisLine: { show: false }, axisTick: { show: false },
      axisLabel: { fontSize: 32, color: INK, margin: 11, fontFamily: FONT, padding: [0, 0, 12, 0] } },
    { gridIndex: 3, type: 'category', data: geneSets, show: false },
    { gridIndex: 4, type: 'value', min: -2.5, max: 2.5, position: 'right',
      axisLine: { show: false, onZero: false },
      axisTick: { show: true, inside: true, customValues: colorbarTicks, length: 6, lineStyle: { color: '#333333', width: 1.5 } },
      axisLabel: { customValues: colorbarLabels, formatter: fmtCb, fontSize: 30, color: INK, margin: 18, fontFamily: FONT },
      splitLine: { show: false } },
    hiddenAxis(5, 0, 1),
    { gridIndex: 6, type: 'value', min: -0.09, max: 9.1,
      axisLine: { show: true, onZero: false, lineStyle: { color: INK, width: 3 } },
      axisTick: { show: true, customValues: [2, 4, 6, 8], length: 11, lineStyle: { color: INK, width: 3 } },
      axisLabel: { customValues: [2, 4, 6, 8], fontSize: 27, color: INK, margin: 24, fontFamily: FONT },
      splitLine: { show: false } },
    { gridIndex: 7, type: 'value', min: -0.09, max: 7.3,
      axisLine: { show: true, onZero: false, lineStyle: { color: INK, width: 3 } },
      axisTick: { show: true, customValues: [2, 4, 6], length: 11, lineStyle: { color: INK, width: 3 } },
      axisLabel: { customValues: [2, 4, 6], fontSize: 27, color: INK, margin: 24, fontFamily: FONT },
      splitLine: { show: false } },
    hiddenAxis(8, 0, 1)
  ],
  visualMap: [{
    type: 'continuous', min: -2.5, max: 2.5, seriesIndex: heatIdx, calculable: false, hoverLink: false,
    orient: 'vertical', left: 1731, top: 737, itemWidth: 42, itemHeight: 230, padding: 0, text: null,
    inRange: { color: rdbu }, show: true
  }],
  legend: {
    orient: 'vertical', left: 1743, top: 253, itemWidth: 28, itemHeight: 28, itemGap: 7,
    selectedMode: false, padding: 0,
    textStyle: { fontSize: 29, color: INK, fontFamily: FONT, padding: [0, 0, 0, 6] },
    data: densityGroups.map((n, i) => ({ name: n, icon: 'rect',
      itemStyle: { color: densityFill[i], borderColor: densityLine[i], borderWidth: 3 } }))
  },
  series: series,
  graphic: graphics
};

const chart = echarts.init(document.getElementById('chart'), null, { renderer: 'canvas', width: 1945, height: 1670 });
chart.setOption(option);
</script>
</body>
</html>
